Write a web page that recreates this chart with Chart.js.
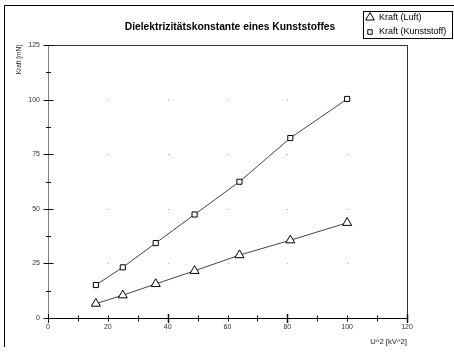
<!DOCTYPE html>
<html lang="de">
<head>
    <meta charset="UTF-8">
    <title>Dielektrizitätskonstante eines Kunststoffes</title>
    <script src="https://cdn.jsdelivr.net/npm/chart.js"></script>
    <style>
        html, body { margin: 0; padding: 0; background: #fff; }
        #wrap { width: 454px; height: 355px; }
    </style>
</head>
<body>
    <div id="wrap"><canvas id="chart" width="454" height="355"></canvas></div>

    <script>
        // Messwerte
        const uQuadrat = [16, 25, 36, 49, 64, 81, 100];          // U^2 [kV^2]
        const kraftLuft = [6.6, 10.4, 15.6, 21.6, 28.8, 35.6, 43.6];
        const kraftKunststoff = [15.1, 23.2, 34.3, 47.4, 62.4, 82.4, 100.3];
        const xTicks = [0, 20, 40, 60, 80, 100, 120];
        const yTicks = [0, 25, 50, 75, 100, 125];
        const titel = 'Dielektrizitätskonstante eines Kunststoffes';
        const xTitel = 'U^2 [kV^2]';
        const yTitel = 'Kraft [mN]';
        const serienNamen = ['Kraft (Luft)', 'Kraft (Kunststoff)'];

        const FONT = "'Liberation Sans', Arial, sans-serif";

        function punkte(ys) {
            return uQuadrat.map((x, i) => ({ x: x, y: ys[i] }));
        }

        // Rahmen, Striche, Gitterpunkte, Titel und Legende
        const rahmenPlugin = {
            id: 'rahmen',
            beforeDatasetsDraw(chart) {
                const ctx = chart.ctx;
                const xs = chart.scales.x, ys = chart.scales.y;
                ctx.save();
                // Gitterpunkte
                ctx.fillStyle = '#b0b0b0';
                xTicks.forEach(xv => {
                    yTicks.forEach(yv => {
                        const px = Math.round(xs.getPixelForValue(xv));
                        const py = Math.round(ys.getPixelForValue(yv));
                        ctx.fillRect(px, py, 1, 1);
                    });
                });
                ctx.restore();
            },
            afterDraw(chart) {
                const ctx = chart.ctx;
                const a = chart.chartArea;
                const xs = chart.scales.x, ys = chart.scales.y;
                ctx.save();
                ctx.lineWidth = 1;

                // äußerer Rahmen (oben, links)
                ctx.strokeStyle = '#000';
                ctx.beginPath();
                ctx.moveTo(4.5, 347);
                ctx.lineTo(4.5, 5.5);
                ctx.lineTo(454, 5.5);
                ctx.stroke();

                const L = Math.round(a.left) + 0.5, R = Math.round(a.right) + 0.5;
                const T = Math.round(a.top) + 0.5, B = Math.round(a.bottom) + 0.5;

                // oben und rechts
                ctx.strokeStyle = '#333';
                ctx.beginPath();
                ctx.moveTo(L - 4, T);
                ctx.lineTo(R, T);
                ctx.lineTo(R, B);
                ctx.stroke();

                // y-Achse
                ctx.strokeStyle = '#808080';
                ctx.beginPath();
                ctx.moveTo(L, T);
                ctx.lineTo(L, B);
                ctx.stroke();

                // x-Achse
                ctx.strokeStyle = '#000';
                ctx.beginPath();
                ctx.moveTo(L - 4, B);
                ctx.lineTo(R, B);
                ctx.stroke();

                // y-Striche
                ctx.strokeStyle = '#111';
                for (let v = 0; v <= 125; v += 12.5) {
                    const py = Math.round(ys.getPixelForValue(v)) + 0.5;
                    const len = (v % 25 === 0) ? 5 : 2.5;
                    ctx.beginPath();
                    ctx.moveTo(L - len, py);
                    ctx.lineTo(L + len, py);
                    ctx.stroke();
                }
                // x-Striche
                for (let v = 0; v <= 120; v += 10) {
                    const px = Math.round(xs.getPixelForValue(v)) + 0.5;
                    const len = (v % 40 === 0) ? 4.5 : 3;
                    ctx.lineWidth = (v % 40 === 0 && v > 0) ? 1.5 : 1;
                    ctx.beginPath();
                    ctx.moveTo(px, B - len);
                    ctx.lineTo(px, B + len);
                    ctx.stroke();
                }
                ctx.lineWidth = 1;

                // Titel
                ctx.fillStyle = '#000';
                ctx.font = 'bold 10.3px ' + FONT;
                ctx.textAlign = 'center';
                ctx.textBaseline = 'middle';
                ctx.fillText(titel, 230, 27);

                // Legende
                ctx.strokeStyle = '#000';
                ctx.strokeRect(363.5, 11.5, 89, 27);
                ctx.font = '9px ' + FONT;
                ctx.textAlign = 'left';
                chart.data.datasets.forEach((ds, i) => {
                    const cy = 17.5 + i * 14.5;
                    ctx.fillStyle = '#fff';
                    ctx.strokeStyle = '#000';
                    ctx.lineWidth = 1;
                    Chart.helpers.drawPoint(ctx, {
                        pointStyle: ds.pointStyle,
                        radius: ds.pointStyle === 'rect' ? 3.2 : 5,
                        borderWidth: 1
                    }, 370, cy);
                    ctx.fillStyle = '#000';
                    ctx.fillText(ds.label, 379, cy);
                });
                ctx.restore();
            }
        };

        function serie(label, ys, stil, radius) {
            return {
                label: label,
                data: punkte(ys),
                borderColor: '#444',
                borderWidth: 1,
                pointStyle: stil,
                pointRadius: radius,
                pointBackgroundColor: '#fff',
                pointBorderColor: '#000',
                pointBorderWidth: 1,
                tension: 0
            };
        }

        new Chart(document.getElementById('chart'), {
            type: 'line',
            data: {
                datasets: [
                    serie(serienNamen[0], kraftLuft, 'triangle', 5.2),
                    serie(serienNamen[1], kraftKunststoff, 'rect', 3.6)
                ]
            },
            options: {
                responsive: false,
                animation: false,
                layout: { padding: { left: 0, top: 45, right: 47, bottom: 0 } },
                plugins: {
                    legend: { display: false },
                    title: { display: false },
                    tooltip: { enabled: false }
                },
                scales: {
                    x: {
                        type: 'linear',
                        min: 0, max: 120,
                        afterFit(s) { s.height = 37; },
                        afterBuildTicks(s) { s.ticks = xTicks.map(v => ({ value: v })); },
                        grid: { display: false, drawTicks: false },
                        border: { display: false },
                        ticks: {
                            padding: 5,
                            color: '#333',
                            font: { family: FONT, size: 7 }
                        },
                        title: {
                            display: true,
                            text: xTitel,
                            align: 'end',
                            color: '#222',
                            font: { family: FONT, size: 7.7 },
                            padding: { top: 0, bottom: 8 }
                        }
                    },
                    y: {
                        type: 'linear',
                        min: 0, max: 125,
                        afterFit(s) { s.width = 48; },
                        afterBuildTicks(s) { s.ticks = yTicks.map(v => ({ value: v })); },
                        grid: { display: false, drawTicks: false },
                        border: { display: false },
                        ticks: {
                            padding: 8,
                            color: '#333',
                            font: { family: FONT, size: 7 }
                        },
                        title: {
                            display: true,
                            text: yTitel,
                            align: 'end',
                            color: '#222',
                            font: { family: FONT, size: 6.5 },
                            padding: { top: 15, bottom: 0 }
                        }
                    }
                }
            },
            plugins: [rahmenPlugin]
        });
    </script>
</body>
</html>
